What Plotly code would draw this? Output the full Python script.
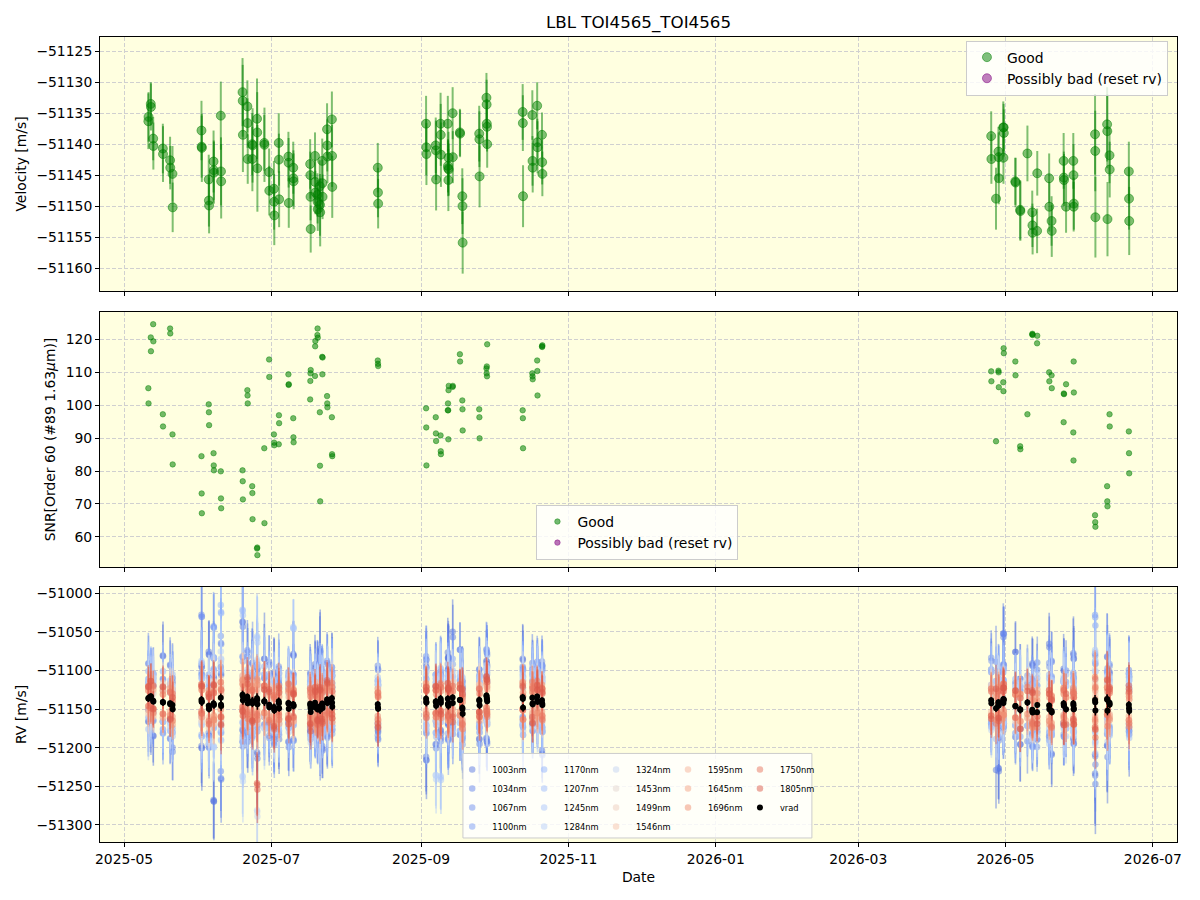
import plotly.graph_objects as go
from plotly.subplots import make_subplots
import pandas as pd

# ---------------- data ----------------
night_dates = ["2025-05-11", "2025-05-12", "2025-05-13", "2025-05-17", "2025-05-20", "2025-05-21", "2025-06-02", "2025-06-05", "2025-06-07", "2025-06-10",
               "2025-06-19", "2025-06-21", "2025-06-23", "2025-06-25", "2025-06-28", "2025-06-30", "2025-07-02", "2025-07-04", "2025-07-08", "2025-07-10",
               "2025-07-17", "2025-07-19", "2025-07-20", "2025-07-21", "2025-07-22", "2025-07-24", "2025-07-26", "2025-08-14", "2025-09-03", "2025-09-07",
               "2025-09-09", "2025-09-12", "2025-09-14", "2025-09-17", "2025-09-18", "2025-09-25", "2025-09-28", "2025-10-13", "2025-10-17", "2025-10-19",
               "2025-10-21", "2026-04-25", "2026-04-27", "2026-04-28", "2026-04-30", "2026-05-05", "2026-05-07", "2026-05-10", "2026-05-12", "2026-05-14",
               "2026-05-19", "2026-05-20", "2026-05-25", "2026-05-26", "2026-05-29", "2026-06-07", "2026-06-12", "2026-06-13", "2026-06-21"]

night_vel = [
    [-51136.3, -51135.6], [-51133.5, -51134.0], [-51139.1, -51140.3], [-51140.7, -51141.6], [-51142.6, -51143.8], [-51144.8, -51150.2],
    [-51137.8, -51140.4, -51140.6], [-51145.7, -51149.1, -51149.9], [-51142.8, -51144.2, -51144.6], [-51135.4, -51144.4, -51146.0],
    [-51131.6, -51133.0, -51138.5], [-51133.9, -51136.6, -51142.4], [-51140.0, -51142.4, -51140.2], [-51135.9, -51138.1, -51143.9],
    [-51139.8, -51140.1], [-51144.5, -51147.5],
    [-51147.2, -51149.3, -51151.5], [-51139.8, -51142.5, -51148.9], [-51142.0, -51143.0, -51149.5], [-51143.8, -51145.5, -51146.0],
    [-51143.2, -51145.0, -51148.5, -51153.7], [-51141.9, -51146.1, -51147.8], [-51148.2, -51149.3, -51150.5], [-51146.8, -51149.8, -51151.0],
    [-51142.7, -51146.3, -51148.5],
    [-51137.6, -51140.2, -51142.0], [-51136.0, -51141.9, -51146.9], [-51143.8, -51147.8, -51149.6], [-51136.7, -51140.5, -51141.6],
    [-51140.2, -51141.0, -51145.7],
    [-51136.7, -51138.5, -51141.7], [-51136.7, -51143.5, -51143.9, -51145.8, -51142.2, -51144.1], [-51135.0, -51142.1], [-51138.1, -51138.3],
    [-51148.4, -51150.0, -51155.9],
    [-51138.3, -51139.2, -51145.2], [-51132.5, -51133.6, -51136.7, -51137.2, -51140.0], [-51134.8, -51136.6, -51148.4],
    [-51135.3, -51142.7, -51143.8], [-51133.8, -51139.7, -51140.5],
    [-51138.5, -51142.9, -51144.8], [-51138.7, -51142.4], [-51148.8], [-51141.2, -51142.1, -51145.5], [-51137.3, -51142.2, -51137.3, -51138.2],
    [-51146.0, -51146.2], [-51150.6, -51150.8], [-51141.5], [-51151.0, -51153.1, -51154.3], [-51154.0, -51144.7],
    [-51145.5, -51150.1], [-51152.4, -51154.0], [-51142.7, -51145.4, -51145.8], [-51150.1], [-51142.7, -51145.0, -51150.1, -51149.6],
    [-51138.4, -51141.1, -51151.8], [-51136.8, -51137.9, -51152.1], [-51141.8, -51144.1], [-51144.4, -51148.8, -51152.4],
]

night_err = [
    [4.5, 4.0], [3.5, 3.8], [3.5, 3.8], [4.0, 4.5], [3.8, 3.5], [4.5, 4.0],
    [4.8, 5.0, 5.5], [4.0, 4.2, 4.5], [5.0, 4.8, 5.0], [5.5, 5.5, 6.0],
    [5.5, 5.8, 6.0], [4.2, 4.0, 4.0], [5.0, 5.2, 6.0], [6.5, 6.5, 7.0], [4.5, 6.0], [3.8, 4.0],
    [4.5, 4.5, 4.8], [4.8, 4.2, 4.5], [4.0, 4.0, 4.0], [4.2, 4.5, 4.5],
    [4.0, 3.8, 3.8, 3.8], [3.8, 3.5, 3.5], [3.5, 3.5, 3.5], [4.2, 5.0, 5.5], [3.6, 3.8, 3.6],
    [4.2, 4.2, 4.3], [4.5, 5.0, 5.0], [4.0, 4.0, 4.0], [4.5, 4.5, 5.0], [4.5, 4.8, 5.0],
    [5.0, 5.0, 5.2], [4.5, 4.3, 4.5, 5.0, 4.2, 4.2], [4.2, 4.2], [3.8, 3.8], [4.5, 4.5, 5.0],
    [4.5, 4.5, 5.0], [4.0, 4.0, 4.0, 4.0, 3.8], [4.5, 4.5, 5.0], [4.0, 4.0, 4.0], [3.8, 3.8, 4.2],
    [3.6, 3.6, 3.6], [4.0, 4.0], [5.0], [4.0, 4.0, 4.2], [4.2, 4.2, 3.8, 3.8],
    [3.8, 4.0], [4.8, 4.8], [4.5], [3.5, 3.5, 3.5], [3.6, 3.6],
    [4.0, 4.0], [4.0, 4.2], [4.5, 4.2, 4.2], [4.2], [4.5, 5.0, 4.0, 4.2],
    [6.5, 6.5, 6.5], [6.0, 6.0, 6.0], [4.5, 4.5], [4.8, 5.0, 5.5],
]

night_snr = [
    [105.1, 100.5], [120.5, 116.3], [124.5, 119.3], [97.2, 93.5], [123.2, 121.7], [91.1, 82.0],
    [84.5, 73.2, 67.2], [100.2, 97.8, 93.9], [85.4, 81.7, 80.2], [79.9, 71.7, 68.7],
    [80.2, 76.9, 71.4], [104.5, 102.9, 100.5], [75.4, 73.3, 65.4], [56.5, 56.8, 54.5], [86.9, 64.2], [113.8, 108.5],
    [91.1, 88.6, 87.8], [88.1, 96.9, 94.5], [109.3, 106.1, 106.3], [96.0, 90.2, 88.7],
    [101.7, 107.3, 109.6, 110.6], [108.8, 117.8, 119.4], [121.2, 123.2, 120.4], [97.8, 81.6, 70.8], [114.6, 109.3, 114.4],
    [102.7, 100.5, 99.3], [96.3, 85.1, 84.5], [113.5, 112.5, 111.8], [99.0, 93.2, 81.7], [96.3, 91.4, 89.1],
    [90.8, 86.0, 85.1], [98.4, 100.5, 98.4, 89.6, 104.5, 105.8], [105.5, 105.8], [115.4, 113.2], [101.4, 98.7, 92.3],
    [98.7, 96.3, 89.9], [111.1, 109.6, 111.7, 108.7, 118.4], [98.4, 96.0, 86.9], [109.6, 108.7, 107.8], [113.5, 110.3, 102.9],
    [117.8, 117.6, 118.1], [110.2, 107.2], [89.0], [110.4, 109.9, 105.4], [106.9, 104.2, 117.2, 115.7],
    [113.2, 109.0], [87.5, 86.6], [97.2], [121.4, 121.6, 121.2], [118.7, 121.0],
    [109.9, 107.2], [109.0, 105.1], [94.8, 103.5, 103.3], [106.3], [91.7, 83.2, 113.2, 103.8],
    [66.6, 64.5, 63.1], [75.4, 70.8, 69.3], [97.2, 93.5], [92.0, 85.4, 79.3],
]

band_names = ["1003nm", "1034nm", "1067nm", "1100nm", "1170nm", "1207nm", "1245nm", "1284nm", "1324nm",
              "1453nm", "1499nm", "1546nm", "1595nm", "1645nm", "1696nm", "1750nm", "1805nm"]
band_wave = [1003, 1034, 1067, 1100, 1170, 1207, 1245, 1284, 1324, 1453, 1499, 1546, 1595, 1645, 1696, 1750, 1805]
band_err = [45, 42, 40, 40, 38, 36, 38, 40, 35, 28, 26, 24, 22, 22, 22, 24, 28]

# per-night offset of each band's RV from vrad [m/s]
off_1003 = [-30, 25, -45, 60, -20, 35, -60, 70, -125, 40,
            95, -50, 30, -70, 55, -25, 45, -40, 20, 65,
            -35, 50, -15, 75, -55, 30, 40, -30, -75, 20,
            -40, 60, 85, -20, 35, -50, 45, 50, -25, 30,
            -65, 40, -80, -85, -30, 70, -45, 25, 60, -35,
            80, -55, 45, -20, 65, -95, -60, 40, -30]
off_1034 = [20, -40, 35, -25, 50, -55, 45, -35, 60, -95,
            -45, 60, -30, 40, -20, 55, -35, 25, -50, 30,
            40, -25, 55, -40, 20, -45, -30, 50, 45, -55,
            35, -25, -40, 65, -30, 40, -55, -35, 45, -20,
            50, -30, 60, -45, 85, -25, 40, -50, -30, 55,
            -40, 65, -25, 50, -45, -70, 55, -35, 45]
off_1067 = [45, 15, -25, 30, -45, 20, 110, -50, 35, 80,
            -60, 25, 50, -35, 30, -40, -20, 45, 35, -45,
            25, -35, 40, 20, -30, 50, 25, -40, 55, 35,
            -50, 45, -30, -45, 25, -35, 60, -25, 30, 45,
            -35, 55, 25, -30, 45, -40, -25, 35, -45, 25,
            55, -30, -40, 35, 20, 60, -45, 50, -25]
off_1100 = [-15, 30, 20, -40, 25, -30, 35, 40, 100, -35,
            50, -40, 25, 45, -30, 20, -45, 30, -25, 40,
            -30, 20, -40, 35, 45, -25, -35, 30, -40, -25,
            30, -45, 50, 25, -40, 30, -30, 40, -35, 25,
            45, -25, 35, 40, -35, 30, 25, -30, 40, -45,
            -35, 45, 30, -25, 40, 110, 35, -30, 40]
off_1170 = [25, -20, 30, -35, 15, 40, -45, 30, 45, 120,
            -35, 30, -45, 25, 35, -30, 25, -20, 40, -25,
            30, -35, 20, -25, 35, 25, 40, -20, 30, -40,
            -25, 30, 35, -40, 20, -30, 25, 35, -25, 40,
            -30, 20, -40, 30, 25, -35, 30, 20, -30, 35,
            40, -25, 30, 45, -30, 50, 35, -40, 25]
off_1207 = [-25, 35, -15, 20, -35, 25, 30, -40, -30, 45,
            110, -25, 35, -30, -20, 40, 30, -35, -25, 35,
            -20, 40, -30, 30, -25, -35, 20, 35, -30, 25,
            40, -20, -35, 30, -30, 25, 35, -30, 40, -25,
            35, -30, 25, -20, 40, 25, -35, -30, 35, -25,
            -30, 40, -25, 30, 35, -40, -25, 30, -35]
off_1245 = [35, -30, 25, 40, -25, -35, 50, 25, 60, -45,
            -55, 35, -40, 80, 45, -25, 35, 40, -30, 100,
            35, -25, 30, 40, -35, 30, -30, -25, 40, 35,
            -100, 35, 25, -30, 40, -35, -25, 30, 35, -30,
            -35, 40, 30, -40, -25, 35, 30, -30, 25, 40,
            -45, -30, 35, -35, 30, 65, -40, 35, 30]
off_1284 = [-40, 20, 35, -25, 30, 25, -30, -45, -55, 60,
            -105, -30, 25, 50, -35, 30, -25, -30, 35, 30,
            -40, 30, 25, -35, 30, 35, -25, 30, -35, -95,
            30, 25, -40, 35, -25, 30, 40, -35, -30, 35,
            30, -35, 35, 25, -30, -25, 35, 30, -35, -30,
            35, 40, -30, 30, -35, -55, 30, -35, 40]
off_1324 = [20, -25, 30, 15, -30, 25, -20, 35, 40, -30,
            25, 20, -30, -145, 20, 25, -30, 20, 30, -20,
            25, -25, 30, -20, 20, -25, 30, 25, -20, 30,
            -25, 20, 30, -25, 25, 20, -30, 25, 20, -25,
            30, 20, -25, 30, -20, 25, -25, 30, 20, -30,
            25, -20, 30, -25, 20, 40, -30, 25, 20]
off_1453 = [15, -20, 10, 25, -15, 20, -25, 15, 30, -20,
            20, -15, 25, -20, 15, -15, 20, -20, 15, 20,
            -15, 20, -20, 15, -20, 15, 20, -15, 20, -20,
            15, -20, 20, 15, -15, 20, -20, 15, -20, 20,
            -20, 15, 20, -15, 20, -20, 15, -20, 15, 20,
            -20, 15, -15, 20, -20, 25, 15, -20, 15]
off_1499 = [-20, 15, -15, 20, 25, -15, 20, -25, -20, 25,
            -15, 20, -20, 15, -20, 25, -15, 20, -15, -20,
            20, -15, 15, -20, 20, -15, -20, 20, -15, 15,
            -20, 15, -15, 20, -20, -15, 20, -15, 20, -15,
            20, -20, -15, 20, -15, 15, -20, 20, -20, -15,
            20, -20, 15, -20, 15, -25, 20, -15, -20]
off_1546 = [10, 20, -20, -15, 15, 20, -15, 20, -25, 15,
            25, -20, 15, -25, 20, -15, 25, -15, 20, 15,
            -20, 15, -15, 20, -15, 20, 15, -20, 20, -15,
            15, -15, 20, -20, 15, 20, -15, 20, -15, 15,
            -15, 20, 15, -20, 15, -15, 20, -15, 20, 15,
            -15, 20, -20, 15, -15, 20, -20, 15, 20]
off_1595 = [-15, 10, 15, -20, -10, 15, 20, -15, 20, -15,
            -20, 15, -15, 20, -15, 20, -10, 15, -15, -20,
            15, -15, 20, -15, 10, -20, 15, 15, -15, 20,
            -15, 15, -20, 15, -15, 15, 20, -15, 15, -20,
            15, -15, 20, -15, 15, 20, -15, 15, -15, 20,
            -15, 15, 20, -15, 15, -20, 15, -15, 15]
off_1645 = [10, -15, -10, 15, 20, -15, -20, 15, -15, 20,
            15, -15, 20, -15, 20, -15, 15, -20, 15, 15,
            -15, 20, -15, 15, -20, 15, -15, 20, 15, -15,
            15, -20, 15, -15, 20, -15, 15, -15, -20, 15,
            -15, 15, -15, 20, -15, 15, -15, -20, 15, -15,
            20, -15, 15, 15, -20, 15, -15, 20, -15]
off_1696 = [15, 15, -15, 10, -15, -20, 15, 20, -20, -15,
            20, 15, -20, 25, -15, 15, -20, 15, -20, 20,
            -15, -20, 15, 20, -15, 20, -20, -15, 20, 15,
            -20, 20, -15, -20, 15, -20, -15, 20, 15, -15,
            20, -20, 15, -15, -20, 15, 20, -15, -20, 15,
            -20, 20, -15, 15, 20, -25, 15, -20, 15]
off_1750 = [-10, -15, 20, -15, 15, 15, -15, -20, 15, 20,
            -15, -20, 15, -20, 20, -20, 15, -15, 25, -15,
            20, 15, -20, -15, 20, -15, 20, 15, -20, -15,
            20, -15, 15, 20, -20, 15, -20, -15, 20, 20,
            -20, 15, -20, 15, 20, -15, 15, 20, -15, -20,
            15, -20, 20, -20, 15, 30, -20, 15, -20]
off_1805 = [15, 20, -10, 20, -20, 10, 20, 15, 25, -25,
            -20, 25, -25, -110, 15, 20, -25, 20, -20, 15,
            -25, 20, -15, 25, -20, 25, -15, -25, 15, 20,
            -15, 20, -25, 15, 25, -15, 25, 15, -25, 15,
            15, -20, 25, -20, 15, 20, -25, 15, 25, -15,
            20, 15, -25, 20, -20, -35, 25, 20, 25]

band_offsets = [off_1003, off_1034, off_1067, off_1100, off_1170, off_1207, off_1245, off_1284, off_1324,
                off_1453, off_1499, off_1546, off_1595, off_1645, off_1696, off_1750, off_1805]

x_tick0 = "2025-05-01"
x_range = ["2025-04-21 01:00", "2026-07-11 00:00"]

# ---------------- flatten per-observation arrays ----------------
t, v, e, s, g = [], [], [], [], []
for i, d in enumerate(night_dates):
    base = pd.Timestamp(d)
    for k in range(len(night_vel[i])):
        t.append(base + pd.Timedelta(hours=1.5 + 1.8 * k))
        v.append(night_vel[i][k])
        e.append(night_err[i][k])
        s.append(night_snr[i][k])
        g.append(i)


def coolwarm(frac):
    anchors = [(0.0, (59, 76, 192)), (0.125, (98, 130, 234)), (0.25, (141, 176, 254)),
               (0.375, (184, 208, 249)), (0.5, (221, 221, 221)), (0.625, (245, 196, 173)),
               (0.75, (244, 154, 123)), (0.875, (222, 96, 77)), (1.0, (180, 4, 38))]
    for j in range(len(anchors) - 1):
        t0, c0 = anchors[j]
        t1, c1 = anchors[j + 1]
        if frac <= t1:
            w = (frac - t0) / (t1 - t0)
            return tuple(int(round(c0[m] + w * (c1[m] - c0[m]))) for m in range(3))
    return anchors[-1][1]


FONT = "DejaVu Sans"
GREEN = "rgba(0,128,0,0.5)"
PURPLE = "rgba(128,0,128,0.5)"

fig = make_subplots(rows=3, cols=1, shared_xaxes=True, vertical_spacing=0.02)

# ---- panel 1: velocity ----
fig.add_trace(go.Scatter(x=t, y=v, mode="markers", name="Good", legend="legend",
                         marker=dict(color=GREEN, size=9, line=dict(color=GREEN, width=1)),
                         error_y=dict(type="data", array=e, color=GREEN, thickness=2, width=0)),
              row=1, col=1)
fig.add_trace(go.Scatter(x=[None], y=[None], mode="markers", name="Possibly bad (reset rv)", legend="legend",
                         marker=dict(color=PURPLE, size=9, line=dict(color=PURPLE, width=1))),
              row=1, col=1)

# ---- panel 2: SNR ----
fig.add_trace(go.Scatter(x=t, y=s, mode="markers", name="Good", legend="legend2",
                         marker=dict(color="rgba(0,128,0,0.55)", size=5.5, line=dict(color="rgba(0,128,0,0.55)", width=0.8))),
              row=2, col=1)
fig.add_trace(go.Scatter(x=[None], y=[None], mode="markers", name="Possibly bad (reset rv)", legend="legend2",
                         marker=dict(color="rgba(128,0,128,0.55)", size=5.5, line=dict(color="rgba(128,0,128,0.55)", width=0.8))),
              row=2, col=1)

# ---- panel 3: per-band RV ----
legend_cols = ["legend3"] * 4 + ["legend4"] * 4 + ["legend5"] * 4 + ["legend6"] * 3 + ["legend7"] * 2
for b, name in enumerate(band_names):
    frac = (band_wave[b] - band_wave[0]) / (band_wave[-1] - band_wave[0])
    r, gg, bb = coolwarm(0.1 + 0.78 * frac)
    col = f"rgba({r},{gg},{bb},0.5)"
    yb = [v[i] + band_offsets[b][g[i]] for i in range(len(v))]
    eb = [band_err[b] * e[i] / 4.5 for i in range(len(v))]
    fig.add_trace(go.Scatter(x=t, y=yb, mode="markers", name=name, legend=legend_cols[b],
                             marker=dict(color=col, size=6.5, line=dict(width=0)),
                             error_y=dict(type="data", array=eb, color=col, thickness=1.6, width=0)),
                  row=3, col=1)
fig.add_trace(go.Scatter(x=t, y=v, mode="markers", name="vrad", legend="legend7",
                         marker=dict(color="black", size=6, line=dict(width=0)),
                         error_y=dict(type="data", array=e, color="black", thickness=1.5, width=0)),
              row=3, col=1)

# ---------------- layout ----------------
axis_common = dict(showline=True, linecolor="black", linewidth=1, mirror=True,
                   ticks="outside", ticklen=4, tickcolor="black",
                   showgrid=True, gridcolor="#d0d0d0", griddash="4px,2px", gridwidth=1,
                   zeroline=False, tickfont=dict(family=FONT, size=13.9, color="black"))

for ax in ["xaxis", "xaxis2", "xaxis3"]:
    fig.layout[ax].update(**axis_common, type="date", range=x_range, dtick="M2", tick0=x_tick0,
                          tickformat="%Y-%m")
fig.layout.xaxis3.update(title=dict(text="Date", font=dict(family=FONT, size=13.9, color="black"), standoff=6))

fig.layout.yaxis.update(**axis_common, domain=[0.6845, 1.0], range=[-51163.7, -51122.7], dtick=5,
                        tickformat="d", title=dict(text="Velocity [m/s]", standoff=6,
                                                   font=dict(family=FONT, size=13.9, color="black")))
fig.layout.yaxis2.update(**axis_common, domain=[0.3416, 0.6584], range=[50.9, 128.2], dtick=10,
                         tickformat="d", title=dict(text="SNR[Order 60 (#89 1.63<i>μ</i>m)]", standoff=6,
                                                    font=dict(family=FONT, size=13.9, color="black")))
fig.layout.yaxis3.update(**axis_common, domain=[0.0, 0.3168], range=[-51322, -50992], dtick=50,
                         tickformat="d", title=dict(text="RV [m/s]", standoff=6,
                                                    font=dict(family=FONT, size=13.9, color="black")))

small_legend = dict(bgcolor="rgba(0,0,0,0)", borderwidth=0, font=dict(family=FONT, size=8.3, color="black"),
                    yanchor="top", y=0.108, xanchor="left", traceorder="normal", tracegroupgap=0)
col_x0 = 0.327
col_dx = 0.0668

fig.update_layout(
    width=1200, height=900,
    margin=dict(l=100, r=23, t=37, b=58),
    paper_bgcolor="white", plot_bgcolor="#ffffe0",
    font=dict(family=FONT, size=13.9, color="black"),
    title=dict(text="LBL TOI4565_TOI4565", x=0.5, xref="paper", xanchor="center",
               y=1 - 22 / 900, yref="container", yanchor="middle",
               font=dict(family=FONT, size=16.7, color="black")),
    legend=dict(x=0.9916, xanchor="right", y=0.9955, yanchor="top", bgcolor="rgba(255,255,255,0.8)",
                bordercolor="#cccccc", borderwidth=1, font=dict(family=FONT, size=13.9, color="black")),
    legend2=dict(x=0.499, xanchor="center", y=0.3503, yanchor="bottom", bgcolor="rgba(255,255,255,0.8)",
                 bordercolor="#cccccc", borderwidth=1, font=dict(family=FONT, size=13.9, color="black")),
    legend3=dict(small_legend, x=col_x0),
    legend4=dict(small_legend, x=col_x0 + col_dx),
    legend5=dict(small_legend, x=col_x0 + 2 * col_dx),
    legend6=dict(small_legend, x=col_x0 + 3 * col_dx),
    legend7=dict(small_legend, x=col_x0 + 4 * col_dx),
    shapes=[dict(type="rect", xref="paper", yref="paper", x0=0.337, x1=0.661, y0=0.005, y1=0.110,
                 fillcolor="rgba(255,255,255,0.8)", line=dict(color="#cccccc", width=1), layer="above")],
)

fig.write_html("out.html")
